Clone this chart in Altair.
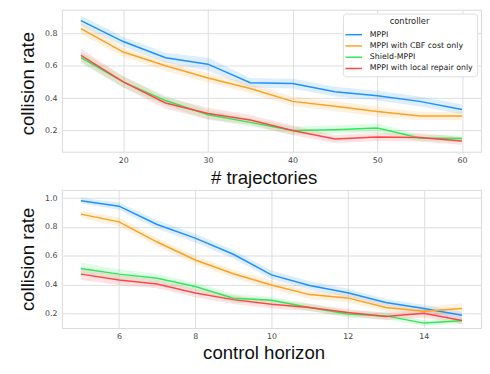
import altair as alt
import pandas as pd

controllers = ["MPPI", "MPPI with CBF cost only", "Shield-MPPI", "MPPI with local repair only"]
colors = ["#1e90ff", "#ffa01e", "#2ee85a", "#ff4545"]

# top panel: number of trajectories
traj_x = [15, 20, 25, 30, 35, 40, 45, 50, 55, 60]
traj_mppi = [0.88, 0.75, 0.65, 0.61, 0.495, 0.49, 0.44, 0.415, 0.38, 0.33]
traj_cbf = [0.83, 0.685, 0.60, 0.525, 0.46, 0.38, 0.35, 0.317, 0.29, 0.29]
traj_shield = [0.65, 0.50, 0.385, 0.297, 0.25, 0.20, 0.205, 0.215, 0.153, 0.15]
traj_repair = [0.665, 0.50, 0.37, 0.305, 0.265, 0.20, 0.147, 0.16, 0.157, 0.135]
traj_ci_mppi = [0.03, 0.03, 0.03, 0.04, 0.03, 0.03, 0.03, 0.03, 0.03, 0.03]
traj_ci_cbf = [0.035, 0.03, 0.03, 0.03, 0.03, 0.03, 0.03, 0.03, 0.025, 0.025]
traj_ci_shield = [0.035, 0.035, 0.03, 0.03, 0.025, 0.025, 0.025, 0.03, 0.02, 0.02]
traj_ci_repair = [0.04, 0.035, 0.035, 0.035, 0.03, 0.03, 0.025, 0.025, 0.025, 0.025]

# bottom panel: control horizon
hor_x = [5, 6, 7, 8, 9, 10, 11, 12, 13, 14, 15]
hor_mppi = [0.982, 0.944, 0.817, 0.722, 0.61, 0.467, 0.393, 0.343, 0.275, 0.234, 0.186]
hor_cbf = [0.889, 0.835, 0.695, 0.57, 0.475, 0.397, 0.33, 0.307, 0.241, 0.214, 0.234]
hor_shield = [0.511, 0.472, 0.443, 0.386, 0.305, 0.29, 0.241, 0.195, 0.182, 0.132, 0.148]
hor_repair = [0.472, 0.431, 0.404, 0.341, 0.295, 0.263, 0.241, 0.205, 0.178, 0.20, 0.15]
hor_ci_mppi = [0.02, 0.025, 0.03, 0.03, 0.03, 0.03, 0.03, 0.03, 0.025, 0.025, 0.025]
hor_ci_cbf = [0.025, 0.03, 0.03, 0.03, 0.03, 0.03, 0.03, 0.03, 0.03, 0.03, 0.035]
hor_ci_shield = [0.04, 0.035, 0.03, 0.03, 0.03, 0.025, 0.025, 0.025, 0.025, 0.02, 0.02]
hor_ci_repair = [0.04, 0.035, 0.03, 0.03, 0.03, 0.03, 0.025, 0.025, 0.025, 0.03, 0.025]


def build(xs, series, cis):
    rows = []
    for name, vals, ci in zip(controllers, series, cis):
        for x, v, c in zip(xs, vals, ci):
            rows.append({"x": x, "controller": name, "rate": v, "lo": v - c, "hi": v + c})
    return pd.DataFrame(rows)


df_traj = build(traj_x, [traj_mppi, traj_cbf, traj_shield, traj_repair],
                [traj_ci_mppi, traj_ci_cbf, traj_ci_shield, traj_ci_repair])
df_hor = build(hor_x, [hor_mppi, hor_cbf, hor_shield, hor_repair],
               [hor_ci_mppi, hor_ci_cbf, hor_ci_shield, hor_ci_repair])


def panel(df, xtitle, xdom, xticks, xtitleY, ydom, yticks, height, ytitleY, legend):
    xax = alt.Axis(values=xticks, title=xtitle, titleX=206, titleY=xtitleY,
                   titleBaseline="alphabetic", titleAlign="center")
    yax = alt.Axis(values=yticks, format=".1f", title="collision rate",
                   titleX=-29, titleY=ytitleY, titleAngle=270,
                   titleBaseline="alphabetic", titleAlign="center")
    x = alt.X("x:Q", scale=alt.Scale(domain=xdom, nice=False, zero=False), axis=xax)
    ysc = alt.Scale(domain=ydom, nice=False, zero=False)
    band = alt.Chart(df).mark_area(opacity=0.15).encode(
        x=x,
        y=alt.Y("lo:Q", scale=ysc, axis=yax),
        y2="hi:Q",
        fill=alt.Fill("controller:N", scale=alt.Scale(domain=controllers, range=colors),
                      legend=None),
    )
    line = alt.Chart(df).mark_line(strokeWidth=1.5).encode(
        x=x,
        y=alt.Y("rate:Q", scale=ysc, axis=yax),
        color=alt.Color("controller:N", scale=alt.Scale(domain=controllers, range=colors),
                        legend=legend),
    )
    return alt.layer(band, line).properties(width=428, height=height)


leg = alt.Legend(
    title="controller", orient="top-right", offset=4,
    fillColor="white", strokeColor="#dddddd", cornerRadius=3, padding=4,
    titleFont="DejaVu Sans", titleFontSize=8.5, titleFontWeight="normal",
    titleColor="#222222", titleAnchor="middle", titleAlign="center", titlePadding=2,
    labelFont="DejaVu Sans", labelFontSize=8, labelColor="#222222",
    symbolType="M-1.4,0H1.4", symbolSize=144, symbolStrokeWidth=1.5,
    symbolOpacity=1, labelOffset=9.5, rowPadding=0.5,
)

top = panel(df_traj, "# trajectories", [12.75, 62.25], [20, 30, 40, 50, 60], 32,
            [0.0685, 0.947], [0.2, 0.4, 0.6, 0.8], 145, 75, leg)
bottom = panel(df_hor, "control horizon", [4.5, 15.5], [6, 8, 10, 12, 14], 31,
               [0.098, 1.057], [0.2, 0.4, 0.6, 0.8, 1.0], 141, 70.5, None)

chart = alt.vconcat(top, bottom, spacing=39, bounds="flush").resolve_legend(
    color="independent"
).properties(
    padding={"left": 10, "top": -3, "right": 0, "bottom": -4}
).configure_view(
    stroke="#d9d9d9", strokeWidth=1
).configure_axis(
    grid=True, gridColor="#dddddd", gridWidth=1,
    domain=False, ticks=False, tickSize=0,
    labelFont="DejaVu Sans", labelFontSize=8, labelColor="#444444", labelPadding=5,
    titleFont="Liberation Sans", titleFontSize=19, titleFontWeight="normal",
    titleColor="#111111",
)

chart.save("out.html", embed_options={"renderer": "svg", "actions": False})
